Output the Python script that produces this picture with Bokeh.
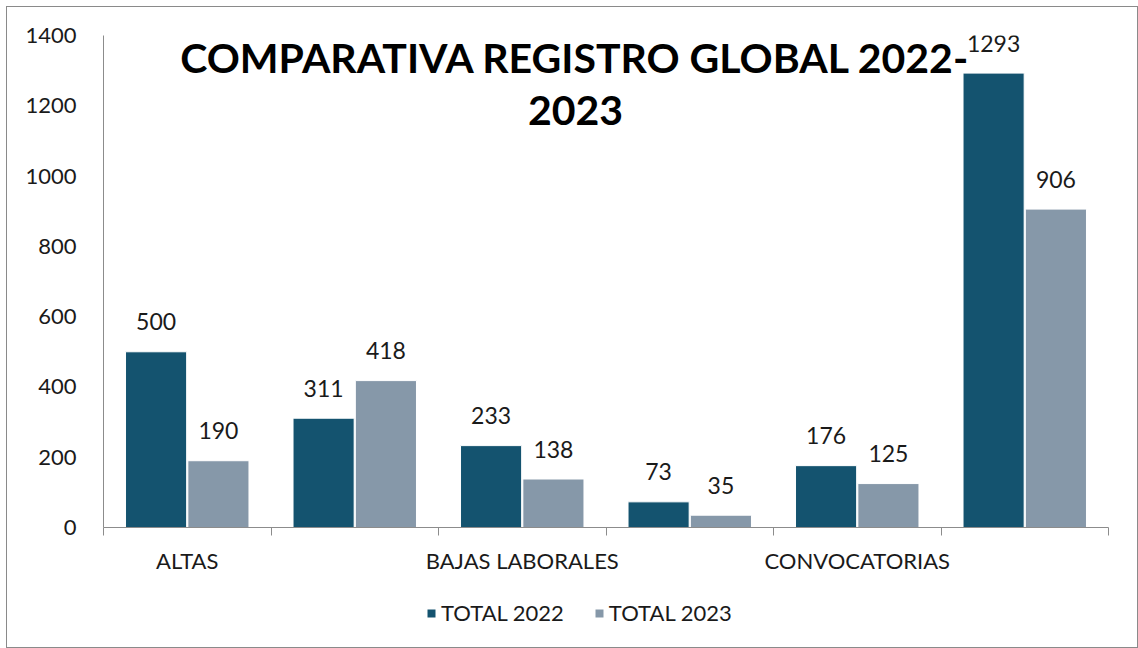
from bokeh.plotting import figure
from bokeh.layouts import column
from bokeh.models import (ColumnDataSource, FixedTicker, Label, Legend, LegendItem)
from bokeh.core.properties import value
from bokeh.embed import file_html
from bokeh.resources import INLINE

# ---- data ----
categories = ["ALTAS", "", "BAJAS LABORALES", "", "CONVOCATORIAS", ""]
total_2022 = [500, 311, 233, 73, 176, 1293]
total_2023 = [190, 418, 138, 35, 125, 906]
series_names = ["TOTAL 2022", "TOTAL 2023"]
y_ticks = [0, 200, 400, 600, 800, 1000, 1200, 1400]
title_lines = ["COMPARATIVA REGISTRO GLOBAL 2022-", "2023"]

# ---- styles ----
C22 = "#14536F"
C23 = "#8698A9"
FONT = "Lato"
AXIS_GREY = "#8c8c8c"
W = 1130

n = len(categories)
centers = [i + 0.5 for i in range(n)]
off = 0.186
bw = 0.365

src = ColumnDataSource(dict(
    x22=[c - off for c in centers],
    x23=[c + off for c in centers],
    v22=total_2022,
    v23=total_2023,
    t22=[str(v) for v in total_2022],
    t23=[str(v) for v in total_2023],
))

p = figure(width=W, height=585, x_range=(0, n), y_range=(0, 1400),
           output_backend="svg", toolbar_location=None,
           min_border_left=96, min_border_right=29,
           min_border_top=28, min_border_bottom=65)
p.outline_line_color = None
p.xgrid.grid_line_color = None
p.ygrid.grid_line_color = None

r22 = p.vbar(x="x22", top="v22", width=bw, source=src, fill_color=C22,
             line_color="white", line_width=1)
r23 = p.vbar(x="x23", top="v23", width=bw, source=src, fill_color=C23,
             line_color="white", line_width=1)

for xcol, tcol, vcol in (("x22", "t22", "v22"), ("x23", "t23", "v23")):
    p.text(x=xcol, y=vcol, text=tcol, source=src, text_align="center",
           text_baseline="alphabetic", y_offset=-30,
           text_font=value(FONT), text_font_size="23px", text_color="#1a1a1a")

# y axis
ya = p.yaxis[0]
ya.ticker = FixedTicker(ticks=y_ticks)
ya.major_tick_line_color = None
ya.minor_tick_line_color = None
ya.axis_line_color = AXIS_GREY
ya.major_label_text_font = FONT
ya.major_label_text_font_size = "22px"
ya.major_label_text_color = "#1a1a1a"
ya.major_label_standoff = 21

# x axis
xa = p.xaxis[0]
label_ticks = [c for c, name in zip(centers, categories) if name]
xa.ticker = FixedTicker(ticks=label_ticks, minor_ticks=list(range(n + 1)))
xa.major_label_overrides = {c: name for c, name in zip(centers, categories) if name}
xa.major_tick_line_color = None
xa.minor_tick_line_color = AXIS_GREY
xa.minor_tick_in = 0
xa.minor_tick_out = 8
xa.axis_line_color = AXIS_GREY
xa.major_label_text_font = FONT
xa.major_label_text_font_size = "22px"
xa.major_label_text_color = "#1a1a1a"
xa.major_label_standoff = 11

# title drawn over the plot
p.add_layout(Label(x=472, y=470, x_units="screen", y_units="screen",
                   text=title_lines[0], text_align="center", text_baseline="middle",
                   text_font=FONT, text_font_size="41px", text_font_style="bold",
                   text_color="black"))
p.add_layout(Label(x=472, y=417, x_units="screen", y_units="screen",
                   text=title_lines[1], text_align="center", text_baseline="middle",
                   text_font=FONT, text_font_size="41px", text_font_style="bold",
                   text_color="black"))

# legend strip below the chart (its bars lie fully outside its view ranges)
pl = figure(width=W, height=55, x_range=(-101, -100), y_range=(5000, 5001),
            output_backend="svg", toolbar_location=None,
            x_axis_location=None, y_axis_location=None, min_border=0)
pl.outline_line_color = None
pl.xgrid.visible = False
pl.ygrid.visible = False
for ax in pl.axis:
    ax.visible = False
l22 = pl.vbar(x="x22", top="v22", width=bw, source=src, fill_color=C22, line_color=None)
l23 = pl.vbar(x="x23", top="v23", width=bw, source=src, fill_color=C23, line_color=None)

legend = Legend(items=[LegendItem(label=series_names[0], renderers=[l22]),
                       LegendItem(label=series_names[1], renderers=[l23])],
                orientation="horizontal", location=(323, 21),
                glyph_width=10, glyph_height=10, label_standoff=5, spacing=30,
                padding=0, margin=0, border_line_color=None,
                background_fill_alpha=0,
                label_text_font=FONT, label_text_font_size="22px",
                label_text_color="#1a1a1a")
pl.add_layout(legend, "center")

layout = column(p, pl, spacing=0,
                styles={"border": "1px solid #8a8a8a", "margin-left": "6px",
                        "margin-top": "6px"})

open("out.html", "w").write(file_html(layout, INLINE))
